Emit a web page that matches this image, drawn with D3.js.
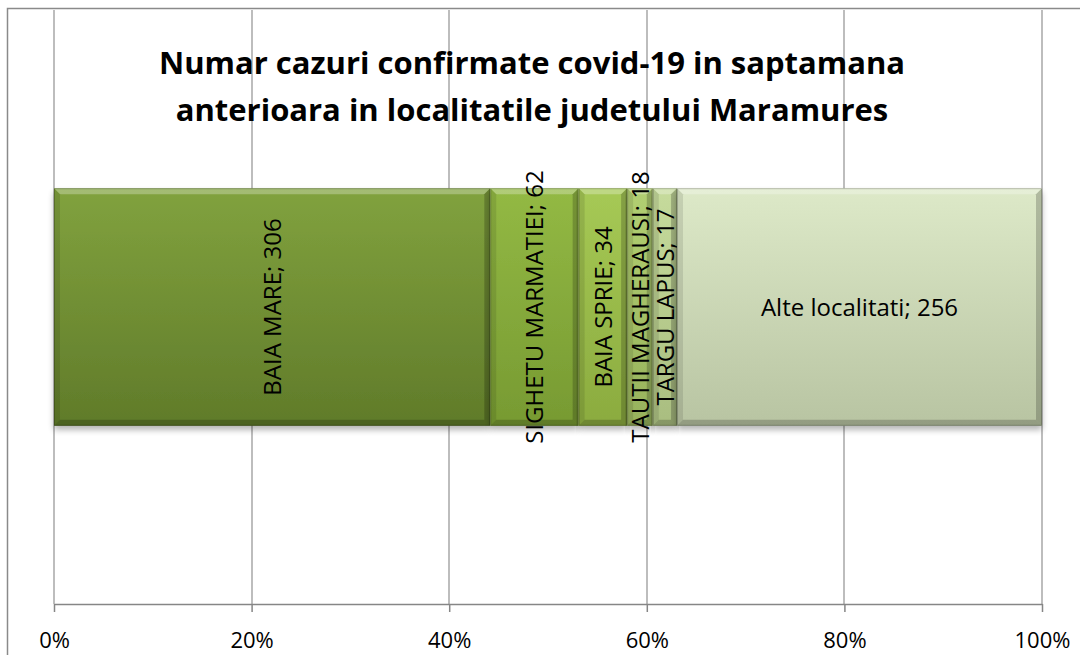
<!DOCTYPE html>
<html>
<head>
<meta charset="utf-8">
<title>covid Maramures</title>
<style>
  body { margin: 0; background: #fff; }
</style>
</head>
<body>
<div id="chart"></div>
<script src="https://cdn.jsdelivr.net/npm/d3@7/dist/d3.min.js"></script>
<script>

// date
var categories = ['BAIA MARE', 'SIGHETU MARMATIEI', 'BAIA SPRIE', 'TAUTII MAGHERAUSI', 'TARGU LAPUS', 'Alte localitati'];
var values = [306, 62, 34, 18, 17, 256];
var tickValues = [0, 0.2, 0.4, 0.6, 0.8, 1];
var titleLines = ['Numar cazuri confirmate covid-19 in saptamana', 'anterioara in localitatile judetului Maramures'];

// culori pe segment (sus, jos)
var palette = [
    ['#81a23e', '#607b2a'],
    ['#93b944', '#779a32'],
    ['#a6c955', '#8bab3f'],
    ['#b2cf72', '#97b25c'],
    ['#c6db9c', '#a9bd80'],
    ['#dde9c8', '#b8c4a2']
];

var W = 1080, H = 655;
var plotLeft = 54, plotRight = 1042, plotTop = 10, plotBottom = 604;
var font = '"Open Sans", Lato, sans-serif';

var svg = d3.select('#chart')
    .append('svg')
    .attr('width', W)
    .attr('height', H);

// chenar
svg.append('rect')
    .attr('x', 7.5).attr('y', 8.5)
    .attr('width', W + 10).attr('height', H + 10)
    .attr('fill', '#fff')
    .attr('stroke', '#8a8a8a')
    .attr('stroke-width', 1.5);

var total = d3.sum(values);
var cum = 0;
var data = categories.map(function(c, i) {
    var d = { name: c, value: values[i], x0: cum / total };
    cum += values[i];
    d.x1 = cum / total;
    return d;
});

var x = d3.scaleLinear().domain([0, 1]).range([plotLeft, plotRight]);
var y = d3.scaleBand().domain(['total']).range([plotTop, plotBottom]).paddingInner(0.6).paddingOuter(0.3);

var defs = svg.append('defs');
var shadow = defs.append('filter').attr('id', 'shadow')
    .attr('x', '-5%').attr('y', '-5%').attr('width', '110%').attr('height', '120%');
shadow.append('feGaussianBlur').attr('in', 'SourceAlpha').attr('stdDeviation', 3);
shadow.append('feOffset').attr('dx', 0).attr('dy', 4).attr('result', 'b');
shadow.append('feComponentTransfer').append('feFuncA').attr('type', 'linear').attr('slope', 0.3);
var merge = shadow.append('feMerge');
merge.append('feMergeNode');
merge.append('feMergeNode').attr('in', 'SourceGraphic');

palette.forEach(function(p, i) {
    var g = defs.append('linearGradient').attr('id', 'grad' + i)
        .attr('x1', '0%').attr('y1', '0%').attr('x2', '0%').attr('y2', '100%');
    g.append('stop').attr('offset', '0%').style('stop-color', p[0]);
    g.append('stop').attr('offset', '100%').style('stop-color', p[1]);
});

// grila
svg.append('g')
    .selectAll('line')
    .data(tickValues)
    .join('line')
    .attr('x1', d => Math.round(x(d)))
    .attr('x2', d => Math.round(x(d)))
    .attr('y1', plotTop)
    .attr('y2', plotBottom)
    .attr('stroke', '#9a9a9a')
    .attr('stroke-width', 1.3);

// axa
var axis = svg.append('g')
    .attr('transform', 'translate(0,' + plotBottom + ')')
    .call(d3.axisBottom(x).tickValues(tickValues).tickFormat(d3.format('.0%')).tickSize(8).tickSizeOuter(0).tickPadding(20));
axis.select('.domain').attr('stroke', '#868686').attr('stroke-width', 1.5);
axis.selectAll('.tick line').attr('stroke', '#868686').attr('stroke-width', 1.5);
axis.selectAll('.tick text')
    .style('font-family', font)
    .style('font-size', '22px')
    .attr('fill', '#000');

var bar = svg.append('g');
var by0 = y('total'), bh = y.bandwidth(), b = 6;

var seg = bar.selectAll('g.seg')
    .data(data)
    .join('g')
    .attr('class', 'seg');

seg.append('rect')
    .attr('x', d => x(d.x0))
    .attr('y', by0)
    .attr('width', d => x(d.x1) - x(d.x0))
    .attr('height', bh)
    .attr('fill', (d, i) => 'url(#grad' + i + ')')
    .attr('filter', 'url(#shadow)');

// bizou: sus mai deschis, jos / laterale mai inchise
function bevel(d, side) {
    var l = x(d.x0), r = x(d.x1), t = by0, btm = by0 + bh;
    var bb = Math.min(b, (r - l) / 2);
    if (side == 'top') return 'M' + l + ',' + t + 'L' + r + ',' + t + 'L' + (r - bb) + ',' + (t + b) + 'L' + (l + bb) + ',' + (t + b) + 'Z';
    if (side == 'bottom') return 'M' + l + ',' + btm + 'L' + r + ',' + btm + 'L' + (r - bb) + ',' + (btm - b) + 'L' + (l + bb) + ',' + (btm - b) + 'Z';
    if (side == 'left') return 'M' + l + ',' + t + 'L' + (l + bb) + ',' + (t + b) + 'L' + (l + bb) + ',' + (btm - b) + 'L' + l + ',' + btm + 'Z';
    return 'M' + r + ',' + t + 'L' + (r - bb) + ',' + (t + b) + 'L' + (r - bb) + ',' + (btm - b) + 'L' + r + ',' + btm + 'Z';
}
seg.append('path').attr('d', d => bevel(d, 'top')).attr('fill', '#fff').attr('opacity', 0.28);
seg.append('path').attr('d', d => bevel(d, 'bottom')).attr('fill', '#000').attr('opacity', 0.2);
seg.append('path').attr('d', d => bevel(d, 'left')).attr('fill', '#000').attr('opacity', 0.1);
seg.append('path').attr('d', d => bevel(d, 'right')).attr('fill', '#000').attr('opacity', 0.2);
seg.append('rect')
    .attr('x', d => x(d.x0) + 0.5)
    .attr('y', by0 + 0.5)
    .attr('width', d => x(d.x1) - x(d.x0) - 1)
    .attr('height', bh - 1)
    .attr('fill', 'none')
    .attr('stroke', '#000')
    .attr('stroke-opacity', 0.22);

// etichete
var cy = by0 + bh / 2;
seg.append('text')
    .attr('transform', function(d, i) {
        var cx = (x(d.x0) + x(d.x1)) / 2;
        if (i == data.length - 1) return 'translate(' + cx + ',' + cy + ')';
        return 'translate(' + cx + ',' + cy + ') rotate(-90)';
    })
    .attr('text-anchor', 'middle')
    .attr('dy', '0.36em')
    .style('font-family', font)
    .style('font-size', '24px')
    .attr('fill', '#000')
    .text(d => d.name + '; ' + d.value);

// titlu
svg.append('g')
    .selectAll('text')
    .data(titleLines)
    .join('text')
    .attr('x', 532)
    .attr('y', (d, i) => 74 + i * 47)
    .attr('text-anchor', 'middle')
    .style('font-family', font)
    .style('font-weight', 'bold')
    .style('font-size', '31px')
    .attr('fill', '#000')
    .text(d => d);

</script>
</body>
</html>
